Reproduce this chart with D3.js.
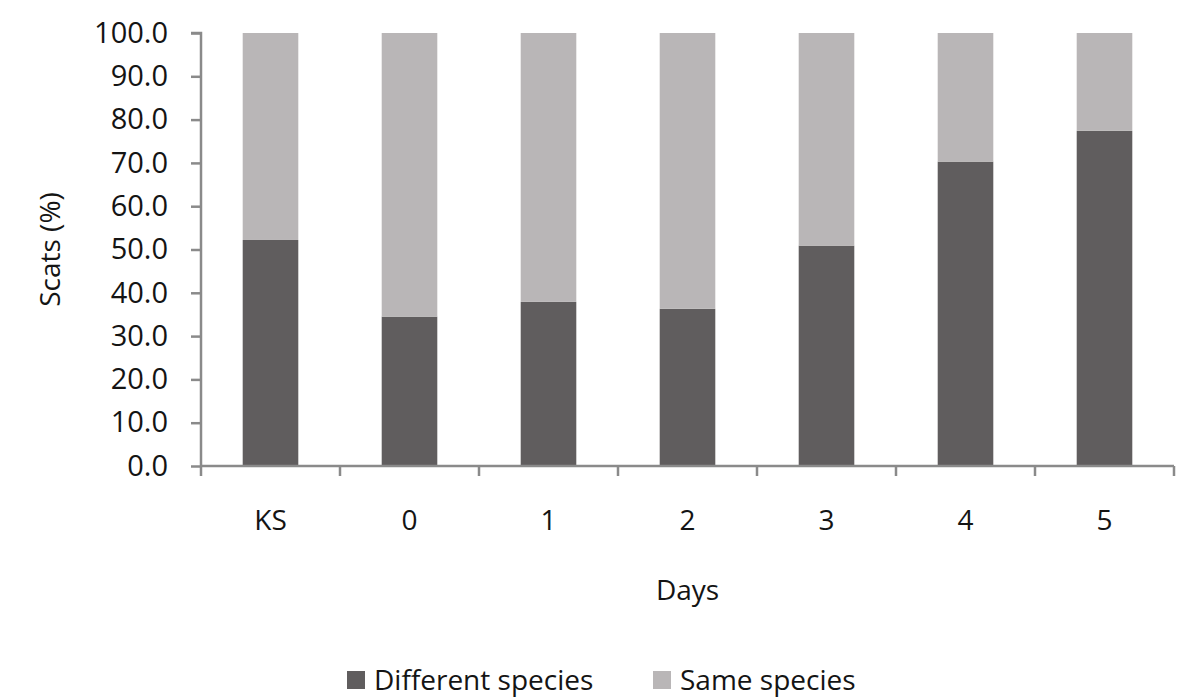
<!DOCTYPE html>
<html>
<head>
<meta charset="utf-8">
<script src="https://cdn.jsdelivr.net/npm/d3@7"></script>
<style>
  html, body { margin: 0; padding: 0; background: #ffffff; }
  svg { display: block; font-family: "Open Sans", "Lato", sans-serif; }
</style>
</head>
<body>
<svg id="chart" width="1181" height="700"></svg>
<script>
const categories = ["KS", "0", "1", "2", "3", "4", "5"];
const differentSpecies = [52.2, 34.5, 37.9, 36.3, 50.9, 70.3, 77.4];
const sameSpecies = [47.8, 65.5, 62.1, 63.7, 49.1, 29.7, 22.6];
const seriesNames = ["Different species", "Same species"];
const seriesColors = ["#605d5e", "#b9b6b7"];
const yTicks = [0, 10, 20, 30, 40, 50, 60, 70, 80, 90, 100];

const svg = d3.select("#chart");
const plotLeft = 201, plotRight = 1174, plotTop = 33, plotBottom = 466;

const x = d3.scaleBand().domain(categories).range([plotLeft, plotRight])
  .paddingInner(0.6).paddingOuter(0.3);
const y = d3.scaleLinear().domain([0, 100]).range([plotBottom, plotTop]);

const rows = categories.map((c, i) => ({ cat: c, diff: differentSpecies[i], same: sameSpecies[i] }));
const stacked = d3.stack().keys(["diff", "same"])(rows);

svg.append("g").selectAll("g").data(stacked).join("g")
  .attr("fill", (d, i) => seriesColors[i])
  .selectAll("rect").data(d => d).join("rect")
  .attr("x", d => x(d.data.cat))
  .attr("width", x.bandwidth())
  .attr("y", d => y(d[1]))
  .attr("height", d => y(d[0]) - y(d[1]));

const axisColor = "#8a8a8a";
const textColor = "#141414";

// Y axis
const yAxis = svg.append("g").attr("transform", `translate(${plotLeft},0)`)
  .call(d3.axisLeft(y).tickValues(yTicks).tickFormat(d3.format(".1f")).tickSize(10).tickPadding(23));
yAxis.select(".domain").attr("stroke", axisColor).attr("stroke-width", 2.5)
  .attr("d", `M-10,${y(100)}H0V${y(0)}`);
yAxis.selectAll(".tick line").attr("stroke", axisColor).attr("stroke-width", 2.5);
yAxis.selectAll(".tick text").attr("font-size", 29).attr("fill", textColor)
  .attr("font-family", "'Open Sans', sans-serif");

// X axis with boundary ticks between categories
const xAxisG = svg.append("g").attr("transform", `translate(0,${plotBottom})`);
const boundaries = d3.range(categories.length + 1).map(i => plotLeft + i * x.step());
xAxisG.append("line").attr("x1", plotLeft).attr("x2", plotRight).attr("y1", 0).attr("y2", 0)
  .attr("stroke", axisColor).attr("stroke-width", 2.5);
xAxisG.selectAll("line.bt").data(boundaries).join("line").attr("class", "bt")
  .attr("x1", d => d).attr("x2", d => d).attr("y1", 0).attr("y2", 10)
  .attr("stroke", axisColor).attr("stroke-width", 2.5);
xAxisG.selectAll("text").data(categories).join("text")
  .attr("x", d => x(d) + x.bandwidth() / 2)
  .attr("y", 64)
  .attr("text-anchor", "middle")
  .attr("font-size", 28).attr("fill", textColor)
  .text(d => d);

// Axis titles
svg.append("text").attr("x", (plotLeft + plotRight) / 2).attr("y", 600)
  .attr("text-anchor", "middle").attr("font-size", 28).attr("fill", textColor).text("Days");
svg.append("text").attr("transform", `translate(60,${(plotTop + plotBottom) / 2}) rotate(-90)`)
  .attr("text-anchor", "middle").attr("font-size", 28).attr("fill", textColor).text("Scats (%)");

// Legend
const legendItems = [{ x: 347, name: seriesNames[0], color: seriesColors[0] },
                     { x: 653, name: seriesNames[1], color: seriesColors[1] }];
const lg = svg.append("g").selectAll("g").data(legendItems).join("g")
  .attr("transform", d => `translate(${d.x},0)`);
lg.append("rect").attr("x", 0).attr("y", 671).attr("width", 18).attr("height", 18)
  .attr("fill", d => d.color);
lg.append("text").attr("x", 27).attr("y", 690).attr("font-size", 28).attr("fill", textColor)
  .text(d => d.name);
</script>
</body>
</html>
